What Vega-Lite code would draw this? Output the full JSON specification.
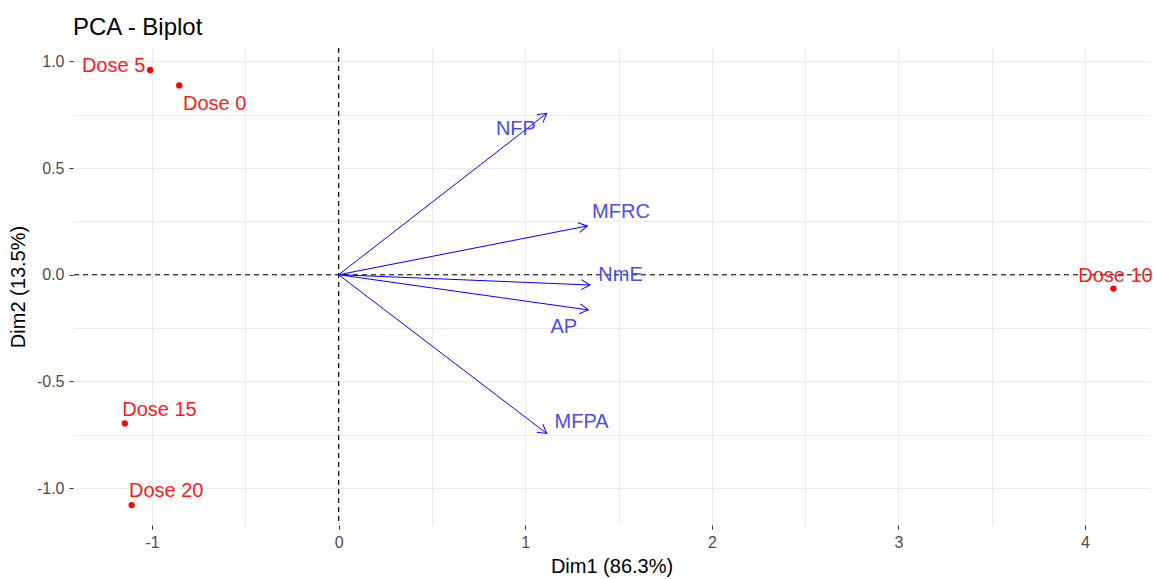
{
  "$schema": "https://vega.github.io/schema/vega-lite/v6.json",
  "width": 1077,
  "height": 477,
  "autosize": {"type": "none"},
  "padding": {"left": 73, "top": 48, "right": 4, "bottom": 54},
  "background": "white",
  "title": {"text": "PCA - Biplot", "anchor": "start", "frame": "group", "fontSize": 24, "fontWeight": "normal", "color": "black", "font": "Liberation Sans", "baseline": "alphabetic", "offset": 14, "dy": 26},
  "datasets": {
    "ind": [
      {"name": "Dose 0", "x": -0.854, "y": 0.888},
      {"name": "Dose 5", "x": -1.010, "y": 0.960},
      {"name": "Dose 10", "x": 4.152, "y": -0.065},
      {"name": "Dose 15", "x": -1.146, "y": -0.697},
      {"name": "Dose 20", "x": -1.109, "y": -1.080}
    ],
    "ind_labels": [
      {"name": "Dose 0", "x": -0.664, "y": 0.808},
      {"name": "Dose 5", "x": -1.206, "y": 0.988},
      {"name": "Dose 10", "x": 4.163, "y": 0.003},
      {"name": "Dose 15", "x": -0.960, "y": -0.629},
      {"name": "Dose 20", "x": -0.924, "y": -1.009}
    ],
    "var": [
      {"name": "NFP", "x": 1.115, "y": 0.757},
      {"name": "MFRC", "x": 1.333, "y": 0.229},
      {"name": "NmE", "x": 1.347, "y": -0.048},
      {"name": "AP", "x": 1.338, "y": -0.165},
      {"name": "MFPA", "x": 1.115, "y": -0.744}
    ],
    "var_labels": [
      {"name": "NFP", "x": 0.950, "y": 0.692},
      {"name": "MFRC", "x": 1.513, "y": 0.300},
      {"name": "NmE", "x": 1.511, "y": 0.006},
      {"name": "AP", "x": 1.207, "y": -0.236},
      {"name": "MFPA", "x": 1.302, "y": -0.685}
    ],
    "origin": [{"x": 0, "y": 0}]
  },
  "layer": [
    {
      "data": {"name": "ind"},
      "mark": {"type": "point", "opacity": 0},
      "encoding": {
        "x": {"field": "x", "type": "quantitative",
          "scale": {"domain": [-1.4234, 4.348], "nice": false, "zero": false},
          "axis": {
            "title": "Dim1 (86.3%)",
            "values": [-1, -0.5, 0, 0.5, 1, 1.5, 2, 2.5, 3, 3.5, 4],
            "labelExpr": "datum.value % 1 === 0 ? '' + datum.value : ''",
            "tickOpacity": {"condition": {"test": "datum.value % 1 !== 0", "value": 0}, "value": 1},
            "labelPadding": 5,
            "titlePadding": 6
          }
        },
        "y": {"field": "y", "type": "quantitative",
          "scale": {"domain": [-1.1735, 1.0633], "nice": false, "zero": false},
          "axis": {
            "title": "Dim2 (13.5%)",
            "values": [-1, -0.75, -0.5, -0.25, 0, 0.25, 0.5, 0.75, 1],
            "labelExpr": "abs((datum.value * 2) % 1) < 0.001 ? replace(format(datum.value, '.1f'), '\u2212', '-') : ''",
            "tickOpacity": {"condition": {"test": "abs((datum.value * 2) % 1) > 0.001", "value": 0}, "value": 1},
            "labelPadding": 5,
            "titlePadding": 8
          }
        }
      }
    },
    {
      "data": {"name": "origin"},
      "mark": {"type": "rule", "color": "black", "strokeDash": [5, 4], "strokeWidth": 1.1},
      "encoding": {"x": {"field": "x", "type": "quantitative"}}
    },
    {
      "data": {"name": "origin"},
      "mark": {"type": "rule", "color": "black", "strokeDash": [5, 4], "strokeWidth": 1.1},
      "encoding": {"y": {"field": "y", "type": "quantitative"}}
    },
    {
      "data": {"name": "var"},
      "mark": {"type": "rule", "color": "blue", "strokeWidth": 1},
      "encoding": {
        "x": {"field": "x", "type": "quantitative"},
        "y": {"field": "y", "type": "quantitative"},
        "x2": {"datum": 0},
        "y2": {"datum": 0}
      }
    },
    {
      "data": {"name": "var"},
      "transform": [{"calculate": "atan2(-datum.y * 213.25, datum.x * 186.9) * 180 / PI", "as": "ang"}],
      "mark": {"type": "point", "shape": "M -0.866 -0.5 L 0 0 L -0.866 0.5", "filled": false, "stroke": "blue", "strokeWidth": 1, "size": 400, "opacity": 1},
      "encoding": {
        "x": {"field": "x", "type": "quantitative"},
        "y": {"field": "y", "type": "quantitative"},
        "angle": {"field": "ang", "type": "quantitative", "scale": null}
      }
    },
    {
      "data": {"name": "var_labels"},
      "mark": {"type": "text", "color": "#4D4DEB", "fontSize": 20, "font": "Liberation Sans", "align": "center", "baseline": "middle", "dy": 1.5},
      "encoding": {
        "x": {"field": "x", "type": "quantitative"},
        "y": {"field": "y", "type": "quantitative"},
        "text": {"field": "name"}
      }
    },
    {
      "data": {"name": "ind"},
      "mark": {"type": "circle", "color": "red", "size": 40, "opacity": 1},
      "encoding": {
        "x": {"field": "x", "type": "quantitative"},
        "y": {"field": "y", "type": "quantitative"}
      }
    },
    {
      "data": {"name": "ind_labels"},
      "mark": {"type": "text", "color": "#FF1A1A", "fontSize": 20, "font": "Liberation Sans", "align": "center", "baseline": "middle", "dy": 1.5},
      "encoding": {
        "x": {"field": "x", "type": "quantitative"},
        "y": {"field": "y", "type": "quantitative"},
        "text": {"field": "name"}
      }
    }
  ],
  "config": {
    "view": {"stroke": null},
    "axis": {
      "domain": false,
      "grid": true,
      "gridColor": "#EBEBEB",
      "gridWidth": 1,
      "ticks": true,
      "tickColor": "#333333",
      "tickSize": 4,
      "tickWidth": 1,
      "labelFont": "Liberation Sans",
      "labelFontSize": 16,
      "labelColor": "#4D4D4D",
      "titleFont": "Liberation Sans",
      "titleFontSize": 20,
      "titleFontWeight": "normal",
      "titleColor": "black"
    }
  }
}
